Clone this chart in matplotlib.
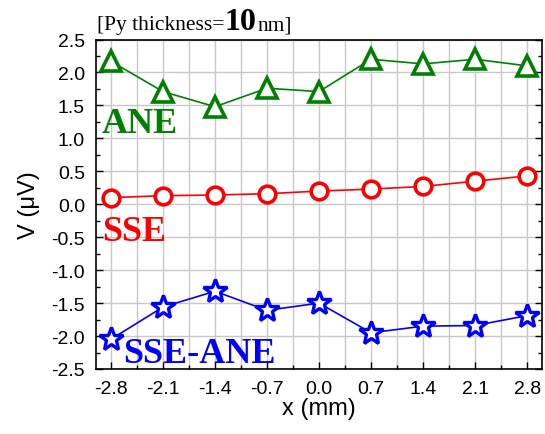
import matplotlib
matplotlib.use('Agg')
import matplotlib.pyplot as plt
from matplotlib.ticker import MultipleLocator

plt.rcParams['font.family'] = 'Liberation Sans'

x_mm = [-2.8, -2.1, -1.4, -0.7, 0.0, 0.7, 1.4, 2.1, 2.8]
ane = [2.17, 1.71, 1.48, 1.76, 1.71, 2.20, 2.13, 2.20, 2.10]
sse = [0.10, 0.13, 0.14, 0.16, 0.20, 0.23, 0.27, 0.35, 0.43]
sse_ane = [-2.05, -1.56, -1.32, -1.61, -1.50, -1.95, -1.85, -1.84, -1.69]

x_ticks = [-2.8, -2.1, -1.4, -0.7, 0.0, 0.7, 1.4, 2.1, 2.8]
y_ticks = [-2.5, -2.0, -1.5, -1.0, -0.5, 0.0, 0.5, 1.0, 1.5, 2.0, 2.5]

green = '#008000'
red = '#ff0000'
blue = '#0000ff'

fig = plt.figure(figsize=(5.45, 4.35), dpi=100)
ax = fig.add_axes([96/545, 65/435, 446/545, 329.5/435])

ax.plot(x_mm, ane, '-', color=green, lw=1.2, marker='^', ms=15,
        mfc='white', mec=green, mew=2.6)
ax.plot(x_mm, sse, '-', color=red, lw=1.2, marker='o', ms=12,
        mfc='white', mec=red, mew=2.6)
ax.plot(x_mm, sse_ane, '-', color=blue, lw=1.2, marker='*', ms=18,
        mfc='white', mec=blue, mew=2.4)

ax.set_xlim(-3.0, 3.0)
ax.set_ylim(-2.5, 2.5)
ax.set_xticks(x_ticks)
ax.set_yticks(y_ticks)
ax.set_xticklabels([f'{v:.1f}' for v in x_ticks])
ax.set_yticklabels([f'{v:.1f}' for v in y_ticks])
ax.xaxis.set_minor_locator(MultipleLocator(0.35))
ax.yaxis.set_minor_locator(MultipleLocator(0.25))

ax.grid(which='major', color='#c8c8c8', lw=1.0)
ax.grid(which='minor', axis='x', color='#c8c8c8', lw=1.0)
ax.set_axisbelow(True)

ax.tick_params(which='both', direction='in', left=True, right=True,
               bottom=True, top=False, labelsize=14, pad=8)
ax.tick_params(which='major', length=5, width=1)
ax.tick_params(which='minor', length=3, width=1)
for sp in ax.spines.values():
    sp.set_linewidth(1.2)

ax.set_xlabel('x (mm)', fontsize=17, labelpad=0)
ax.set_ylabel('V (\u03bcV)', fontsize=17, labelpad=8)

ax.text(-2.92, 1.1, 'ANE', color=green, fontsize=26, fontweight='bold',
        family='Liberation Serif')
ax.text(-2.92, -0.54, 'SSE', color=red, fontsize=26, fontweight='bold',
        family='Liberation Serif')
ax.text(-2.64, -2.4, 'SSE-ANE', color=blue, fontsize=26, fontweight='bold',
        family='Liberation Serif')

# title made of three pieces placed one after another
renderer = fig.canvas.get_renderer()
xpos = 97
ybase = 1 - 30/435
for txt, size, weight in [('[Py thickness=', 15.5, 'normal'),
                          ('10', 23, 'bold'),
                          ('nm]', 15.5, 'normal')]:
    t = fig.text(xpos/545, ybase, txt, fontsize=size, fontweight=weight,
                 family='Liberation Serif', va='baseline')
    xpos = t.get_window_extent(renderer).x1 + 0.5

fig.savefig('out.png', dpi=100)
